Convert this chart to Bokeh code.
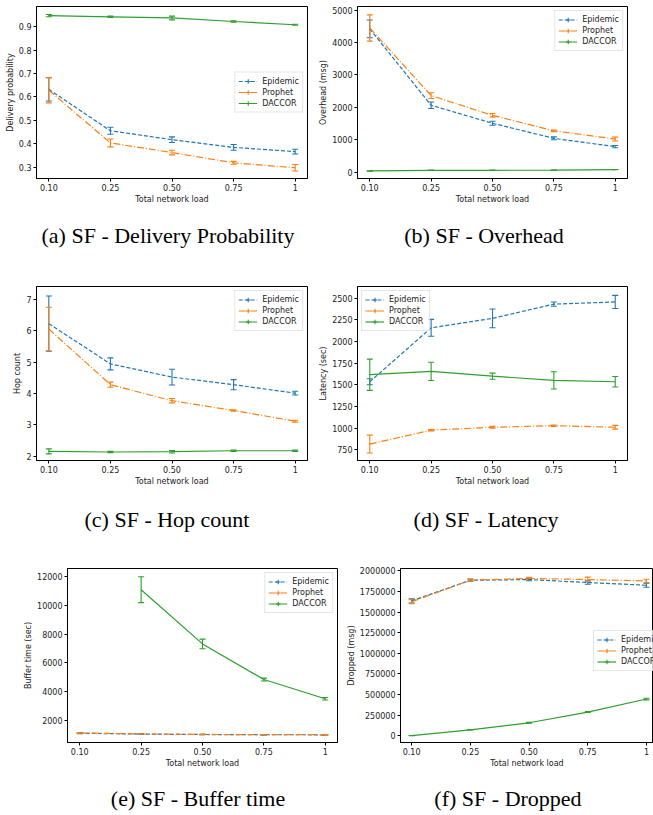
import math
from bokeh.plotting import figure
from bokeh.models import (ColumnDataSource, Whisker, TeeHead, Range1d, FixedTicker,
                          BasicTickFormatter, Legend, LegendItem, Div)
from bokeh.layouts import column, row
from bokeh.embed import file_html
from bokeh.resources import INLINE

# ---------------- data ----------------
loads = ["0.10", "0.25", "0.50", "0.75", "1"]
series_names = ["Epidemic", "Prophet", "DACCOR"]

deliv_epidemic = [0.632, 0.455, 0.417, 0.384, 0.366]
deliv_epidemic_err = [0.050, 0.015, 0.012, 0.012, 0.010]
deliv_prophet = [0.628, 0.403, 0.362, 0.318, 0.297]
deliv_prophet_err = [0.054, 0.017, 0.010, 0.006, 0.014]
deliv_daccor = [0.947, 0.942, 0.937, 0.922, 0.908]
deliv_daccor_err = [0.005, 0.003, 0.008, 0.003, 0.002]

overhead_epidemic = [4422, 2065, 1511, 1045, 791]
overhead_epidemic_err = [274, 100, 60, 45, 35]
overhead_prophet = [4450, 2363, 1755, 1278, 1024]
overhead_prophet_err = [405, 90, 55, 25, 60]
overhead_daccor = [40, 60, 60, 65, 80]
overhead_daccor_err = [5, 5, 5, 5, 5]

hop_epidemic = [6.22, 4.94, 4.52, 4.28, 4.01]
hop_epidemic_err = [0.88, 0.19, 0.25, 0.16, 0.06]
hop_prophet = [6.05, 4.28, 3.77, 3.46, 3.12]
hop_prophet_err = [0.69, 0.08, 0.07, 0.02, 0.03]
hop_daccor = [2.16, 2.14, 2.15, 2.18, 2.18]
hop_daccor_err = [0.08, 0.02, 0.04, 0.02, 0.02]

latency_epidemic = [1536, 2157, 2266, 2430, 2455]
latency_epidemic_err = [34, 97, 108, 25, 76]
latency_prophet = [818, 978, 1012, 1030, 1012]
latency_prophet_err = [103, 8, 10, 8, 22]
latency_daccor = [1617, 1655, 1600, 1552, 1536]
latency_daccor_err = [180, 105, 35, 100, 60]

buffer_epidemic = [1100, 1040, 1010, 995, 990]
buffer_epidemic_err = [30, 10, 10, 10, 10]
buffer_prophet = [1120, 1050, 1015, 1000, 995]
buffer_prophet_err = [30, 10, 10, 10, 10]
buffer_daccor = [float("nan"), 11100, 7323, 4841, 3501]
buffer_daccor_err = [float("nan"), 900, 335, 100, 90]

dropped_epidemic = [1635000, 1886000, 1894000, 1858000, 1825000]
dropped_epidemic_err = [25000, 15000, 15000, 20000, 25000]
dropped_prophet = [1625000, 1886000, 1908000, 1894000, 1878000]
dropped_prophet_err = [25000, 12000, 12000, 30000, 20000]
dropped_daccor = [2000, 73000, 158000, 288000, 446000]
dropped_daccor_err = [1000, 3000, 5000, 5000, 10000]

yticks_deliv = [0.3, 0.4, 0.5, 0.6, 0.7, 0.8, 0.9]
yticks_overhead = [0, 1000, 2000, 3000, 4000, 5000]
yticks_hop = [2, 3, 4, 5, 6, 7]
yticks_latency = [750, 1000, 1250, 1500, 1750, 2000, 2250, 2500]
yticks_buffer = [2000, 4000, 6000, 8000, 10000, 12000]
yticks_dropped = [0, 250000, 500000, 750000, 1000000, 1250000, 1500000, 1750000, 2000000]

captions = ["(a) SF - Delivery Probability", "(b) SF - Overhead",
            "(c) SF - Hop count", "(d) SF - Latency",
            "(e) SF - Buffer time", "(f) SF - Dropped"]

# ---------------- styles ----------------
colors = {"Epidemic": "#1f77b4", "Prophet": "#ff7f0e", "DACCOR": "#2ca02c"}
dashes = {"Epidemic": "4 2", "Prophet": "7 2 1 2", "DACCOR": "solid"}
FONT = "DejaVu Sans"
FS = "8px"


def make_panel(width, height, borders, ylabel, yrange, yticks, data, legend_loc,
               xrange=(-0.2, 4.2)):
    L, R, T, B = borders
    p = figure(width=width, height=height, min_border_left=L, min_border_right=R,
               min_border_top=T, min_border_bottom=B,
               x_range=Range1d(*xrange), y_range=Range1d(*yrange),
               output_backend="svg", toolbar_location=None)
    x_idx = list(range(len(loads)))
    items = []
    for name, mean, err in data:
        c = colors[name]
        src = ColumnDataSource(dict(x=x_idx, y=mean))
        ln = p.line("x", "y", source=src, line_color=c, line_width=1.2,
                    line_dash=dashes[name])
        rows = [(x, m, e) for x, m, e in zip(x_idx, mean, err)
                if not (math.isnan(m) or math.isnan(e))]
        wsrc = ColumnDataSource(dict(x=[r[0] for r in rows],
                                     upper=[r[1] + r[2] for r in rows],
                                     lower=[r[1] - r[2] for r in rows]))
        w = Whisker(source=wsrc, base="x", upper="upper", lower="lower",
                    line_color=c, line_width=1.1,
                    upper_head=TeeHead(size=6, line_color=c, line_width=1.1),
                    lower_head=TeeHead(size=6, line_color=c, line_width=1.1))
        p.add_layout(w)
        mk = p.scatter("x", "y", source=src, marker="cross", size=0,
                       line_color=c, line_width=1.1)
        items.append(LegendItem(label=name, renderers=[ln, mk]))
    leg = Legend(items=items, location=legend_loc, label_text_font=FONT,
                 label_text_font_size=FS, label_text_color="#222222",
                 glyph_width=19, glyph_height=11, label_height=11,
                 label_standoff=5, padding=3, spacing=0, margin=4,
                 border_line_color="#cccccc", border_line_width=1,
                 background_fill_alpha=0.8)
    p.add_layout(leg)

    p.xaxis.ticker = FixedTicker(ticks=x_idx)
    p.xaxis.major_label_overrides = {i: lab for i, lab in enumerate(loads)}
    p.yaxis.ticker = FixedTicker(ticks=yticks)
    p.yaxis.formatter = BasicTickFormatter(use_scientific=False)
    p.xaxis.axis_label = "Total network load"
    p.yaxis.axis_label = ylabel
    for ax in (p.xaxis[0], p.yaxis[0]):
        ax.axis_label_text_font = FONT
        ax.axis_label_text_font_size = FS
        ax.axis_label_text_font_style = "normal"
        ax.axis_label_text_color = "#222222"
        ax.major_label_text_font = FONT
        ax.major_label_text_font_size = FS
        ax.major_label_text_color = "#222222"
        ax.major_tick_out = 3
        ax.major_tick_in = 0
        ax.minor_tick_line_color = None
        ax.axis_line_color = "black"
        ax.major_tick_line_color = "black"
        ax.major_label_standoff = 2
        ax.axis_label_standoff = 1
    p.xgrid.visible = False
    p.ygrid.visible = False
    p.outline_line_color = "black"
    p.outline_line_alpha = 1
    return p


pa = make_panel(312, 206, (36, 5, 6, 26), "Delivery probability", (0.251, 0.986),
                yticks_deliv,
                [("Epidemic", deliv_epidemic, deliv_epidemic_err),
                 ("Prophet", deliv_prophet, deliv_prophet_err),
                 ("DACCOR", deliv_daccor, deliv_daccor_err)], "center_right")
pb = make_panel(341, 206, (45, 26, 6, 26), "Overhead (msg)", (-193, 5112),
                yticks_overhead,
                [("Epidemic", overhead_epidemic, overhead_epidemic_err),
                 ("Prophet", overhead_prophet, overhead_prophet_err),
                 ("DACCOR", overhead_daccor, overhead_daccor_err)], "top_right")
pc = make_panel(312, 218, (36, 5, 16, 27), "Hop count", (1.87, 7.40),
                yticks_hop,
                [("Epidemic", hop_epidemic, hop_epidemic_err),
                 ("Prophet", hop_prophet, hop_prophet_err),
                 ("DACCOR", hop_daccor, hop_daccor_err)], "top_right")
pd_ = make_panel(341, 218, (45, 26, 16, 27), "Latency (sec)", (629, 2633),
                 yticks_latency,
                 [("Epidemic", latency_epidemic, latency_epidemic_err),
                  ("Prophet", latency_prophet, latency_prophet_err),
                  ("DACCOR", latency_daccor, latency_daccor_err)], "top_left")
pe = make_panel(340, 222, (67, 3, 18, 30), "Buffer time (sec)", (453, 12577),
                yticks_buffer,
                [("Epidemic", buffer_epidemic, buffer_epidemic_err),
                 ("Prophet", buffer_prophet, buffer_prophet_err),
                 ("DACCOR", buffer_daccor, buffer_daccor_err)], "top_right")
pf = make_panel(313, 222, (60, 0, 18, 30), "Dropped (msg)", (-81000, 2028000),
                yticks_dropped,
                [("Epidemic", dropped_epidemic, dropped_epidemic_err),
                 ("Prophet", dropped_prophet, dropped_prophet_err),
                 ("DACCOR", dropped_daccor, dropped_daccor_err)], (193, 71),
                xrange=(-0.19, 4.12))


def caption_row(height, baseline, entries):
    spans = "".join(
        f'<span style="position:absolute;left:{cx}px;top:{baseline - 18.4:.1f}px;'
        f'transform:translateX(-50%);white-space:nowrap;line-height:22px;">{t}</span>'
        for cx, t in entries)
    html = (f'<div style="position:relative;width:653px;height:{height}px;'
            f"font-family:'Liberation Serif',serif;font-size:22px;color:#000;\">"
            f'{spans}</div>')
    return Div(text=html, width=653, height=height, margin=0)


cap1 = caption_row(64, 37, [(168, captions[0]), (484, captions[1])])
cap2 = caption_row(62, 39, [(167, captions[2]), (486, captions[3])])
cap3 = caption_row(43, 34, [(198, captions[4]), (508, captions[5])])

layout = column(row(pa, pb), cap1, row(pc, pd_), cap2, row(pe, pf), cap3)

open("out.html", "w").write(file_html(layout, INLINE))
